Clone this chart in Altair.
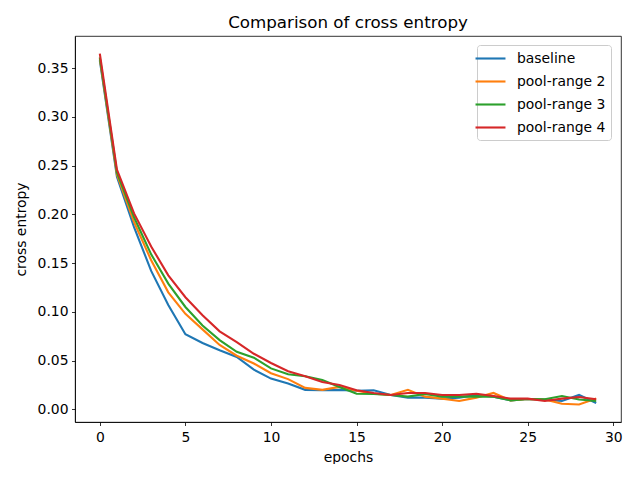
import altair as alt
import pandas as pd

epochs = list(range(30))
series_names = ["baseline", "pool-range 2", "pool-range 3", "pool-range 4"]
baseline = [0.358, 0.2385, 0.187, 0.142, 0.107, 0.077, 0.068, 0.0606, 0.0537, 0.0407,
            0.0315, 0.0264, 0.020, 0.0195, 0.020, 0.019, 0.0195, 0.0147, 0.012, 0.012,
            0.011, 0.012, 0.0147, 0.013, 0.0092, 0.0106, 0.010, 0.0085, 0.0147, 0.0065]
pool2 = [0.360, 0.241, 0.192, 0.153, 0.120, 0.098, 0.082, 0.066, 0.055, 0.047,
         0.037, 0.031, 0.022, 0.020, 0.023, 0.019, 0.016, 0.0147, 0.020, 0.013,
         0.011, 0.0086, 0.012, 0.0168, 0.0092, 0.0106, 0.010, 0.0058, 0.005, 0.011]
pool3 = [0.361, 0.243, 0.197, 0.159, 0.129, 0.105, 0.086, 0.071, 0.059, 0.053,
         0.042, 0.036, 0.034, 0.030, 0.023, 0.016, 0.0157, 0.0147, 0.013, 0.0157,
         0.013, 0.013, 0.0133, 0.013, 0.0092, 0.0106, 0.0103, 0.0137, 0.010, 0.0085]
pool4 = [0.365, 0.246, 0.201, 0.167, 0.1375, 0.115, 0.0965, 0.080, 0.069, 0.057,
         0.0475, 0.039, 0.034, 0.028, 0.025, 0.0195, 0.0167, 0.0147, 0.0167, 0.0167,
         0.0147, 0.0147, 0.016, 0.0137, 0.011, 0.011, 0.0086, 0.011, 0.0127, 0.0103]
x_ticks = [0, 5, 10, 15, 20, 25, 30]
y_ticks = [0.00, 0.05, 0.10, 0.15, 0.20, 0.25, 0.30, 0.35]
colors = ["#1f77b4", "#ff7f0e", "#2ca02c", "#d62728"]

rows = []
for name, vals in zip(series_names, [baseline, pool2, pool3, pool4]):
    for e, v in zip(epochs, vals):
        rows.append({"epoch": e, "value": v, "series": name})
df = pd.DataFrame(rows)

FONT = "DejaVu Sans"

chart = alt.Chart(df).mark_line(strokeWidth=2.1).encode(
    x=alt.X("epoch:Q", title="epochs",
            scale=alt.Scale(domain=[-1.45, 30.45], nice=False, zero=False),
            axis=alt.Axis(values=x_ticks, format="d", labelPadding=5, titlePadding=6)),
    y=alt.Y("value:Q", title="cross entropy",
            scale=alt.Scale(domain=[-0.013, 0.383], nice=False, zero=False),
            axis=alt.Axis(values=y_ticks, format=".2f", titlePadding=9)),
    color=alt.Color("series:N", title=None,
                    scale=alt.Scale(domain=series_names, range=colors),
                    legend=alt.Legend(orient="none", legendX=402, legendY=9)),
).properties(
    width=546, height=386,
    title=alt.TitleParams("Comparison of cross entropy", fontSize=16.7, font=FONT,
                          fontWeight="normal", color="black", offset=4),
    autosize=alt.AutoSizeParams(type="none"),
    padding={"left": 67, "top": 28, "right": 3, "bottom": 42},
).configure_view(
    stroke="black", strokeWidth=0.8
).configure_axis(
    grid=False, domainColor="black", domainWidth=0.8, tickColor="black",
    tickWidth=0.8, tickSize=3.5, labelPadding=3.5, labelFont=FONT,
    labelFontSize=13.9, labelColor="black", titleFont=FONT, titleFontSize=13.9,
    titleFontWeight="normal", titleColor="black", titlePadding=5,
).configure_legend(
    fillColor="white", strokeColor="#cccccc", cornerRadius=3, padding=5,
    symbolType="M-2.14,0L2.14,0", symbolSize=196, symbolStrokeWidth=2.1,
    labelFont=FONT, labelFontSize=13.9, labelColor="black", labelOffset=18,
    rowPadding=7,
)

chart.save("out.html", embed_options={"renderer": "svg", "actions": False})
